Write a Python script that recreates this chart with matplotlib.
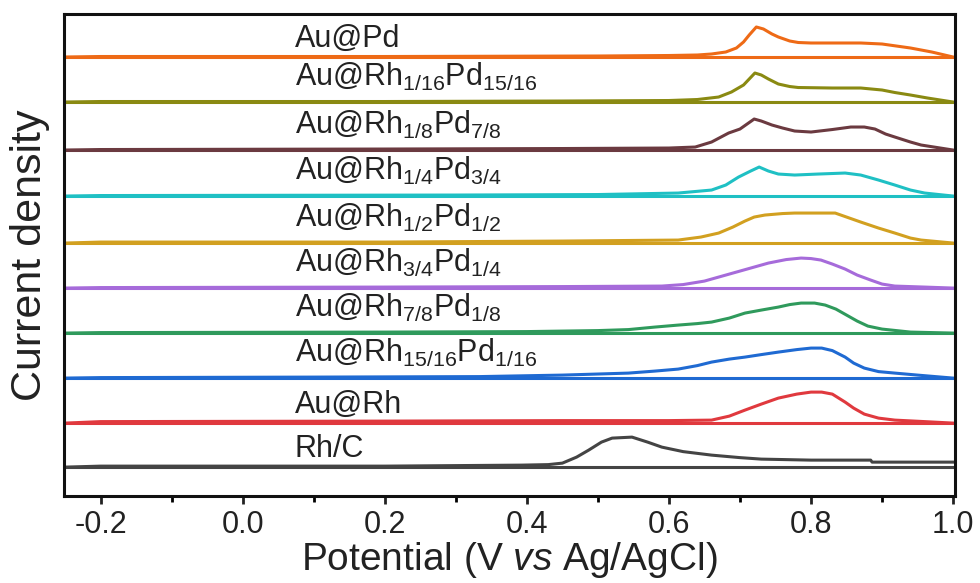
import matplotlib
matplotlib.use("Agg")
import matplotlib.pyplot as plt
from matplotlib.ticker import MultipleLocator

plt.rcParams['font.family'] = ['Liberation Sans', 'DejaVu Sans']
plt.rcParams['mathtext.fontset'] = 'custom'
plt.rcParams['mathtext.rm'] = 'Liberation Sans'
plt.rcParams['mathtext.it'] = 'Liberation Sans:italic'

# ---- data (current density in arbitrary units) ----
labels = [
    "Au@Pd",
    r"Au@Rh$_\mathregular{1/16}$Pd$_\mathregular{15/16}$",
    r"Au@Rh$_\mathregular{1/8}$Pd$_\mathregular{7/8}$",
    r"Au@Rh$_\mathregular{1/4}$Pd$_\mathregular{3/4}$",
    r"Au@Rh$_\mathregular{1/2}$Pd$_\mathregular{1/2}$",
    r"Au@Rh$_\mathregular{3/4}$Pd$_\mathregular{1/4}$",
    r"Au@Rh$_\mathregular{7/8}$Pd$_\mathregular{1/8}$",
    r"Au@Rh$_\mathregular{15/16}$Pd$_\mathregular{1/16}$",
    "Au@Rh",
    "Rh/C",
]
colors = ["#EE6A16", "#8A8A12", "#6B3A40", "#1FC0C4", "#D2A020",
          "#A66BDA", "#2F9A5C", "#1F6AD2", "#E0393E", "#444444"]
offsets = [439, 394, 346, 300, 253, 208, 163, 118, 73, 29]

x_pd = [-0.25, -0.2, 0.2, 0.5, 0.6, 0.64, 0.66, 0.68, 0.695, 0.705, 0.713, 0.723, 0.733, 0.745, 0.754,
        0.77, 0.782, 0.8, 0.82, 0.87, 0.9, 0.92, 0.94, 0.97, 1.0]
y_pd = [0, 0.5, 0.5, 1, 1.5, 2, 3, 5, 9, 15, 22, 30, 28, 23, 20,
        16, 14.5, 14, 14, 14, 13, 11, 9, 5, 0]

x_116 = [-0.25, -0.2, 0.2, 0.45, 0.6, 0.64, 0.67, 0.688, 0.705, 0.713, 0.721, 0.73, 0.74, 0.754,
         0.77, 0.782, 0.83, 0.87, 0.9, 0.918, 0.94, 0.964, 1.0]
y_116 = [0, 0.5, 0.5, 1, 1.5, 2.5, 5, 10, 17, 23, 29, 27, 23, 18,
         15.5, 14.5, 14, 14, 12, 9.5, 7, 4, 0]

x_18 = [-0.25, -0.2, 0.2, 0.45, 0.6, 0.637, 0.66, 0.684, 0.70, 0.71, 0.72, 0.73, 0.745, 0.76, 0.777,
        0.80, 0.83, 0.856, 0.875, 0.89, 0.905, 0.918, 0.94, 0.955, 1.0]
y_18 = [0, 0.5, 1, 1.5, 2, 3, 8, 17, 21, 26, 31, 29, 25, 22, 19,
        18, 20.5, 23, 23, 21, 16, 13, 8, 5, 0]

x_14 = [-0.25, -0.2, 0.3, 0.5, 0.613, 0.66, 0.68, 0.698, 0.715, 0.727, 0.74, 0.754, 0.777, 0.81,
        0.848, 0.87, 0.895, 0.918, 0.94, 0.96, 1.0]
y_14 = [0, 0.5, 1, 1.5, 3, 6, 11, 19, 25, 29, 25, 22, 21, 22,
        23, 21, 16, 11, 6, 3, 0]

x_12 = [-0.25, -0.2, 0.2, 0.45, 0.613, 0.645, 0.67, 0.69, 0.707, 0.72, 0.735, 0.76, 0.777, 0.834,
        0.85, 0.87, 0.895, 0.918, 0.94, 0.955, 1.0]
y_12 = [0, 1, 1, 2, 3, 6, 10, 16, 22, 26, 28, 29.5, 30, 30,
        26, 21, 15, 10, 5, 3, 0]

x_34 = [-0.25, -0.2, 0.2, 0.45, 0.59, 0.62, 0.65, 0.68, 0.71, 0.74, 0.765, 0.786, 0.80, 0.814,
        0.83, 0.848, 0.865, 0.884, 0.90, 0.918, 0.96, 1.0]
y_34 = [0, 0.5, 1, 1.5, 2, 3.5, 7, 13, 19, 25, 28.5, 30, 29.5, 28,
        24, 19, 13, 8, 4, 2, 1, 0]

x_78 = [-0.25, -0.2, 0.2, 0.4, 0.5, 0.543, 0.58, 0.613, 0.64, 0.66, 0.685, 0.707, 0.73, 0.754, 0.77,
        0.786, 0.805, 0.82, 0.835, 0.85, 0.865, 0.88, 0.9, 0.94, 1.0]
y_78 = [0, 0.5, 1, 1.5, 2.5, 3.5, 6, 8, 9.5, 11, 15, 20, 23, 26, 28.5,
        30, 30, 28, 24, 18, 12, 7, 4, 1, 0]

x_1516 = [-0.25, -0.2, 0.1, 0.333, 0.45, 0.543, 0.58, 0.613, 0.64, 0.66, 0.685, 0.707, 0.73, 0.754,
          0.78, 0.80, 0.815, 0.83, 0.848, 0.86, 0.875, 0.895, 0.918, 0.95, 1.0]
y_1516 = [0, 0.5, 1, 1.5, 3, 5, 7, 9, 12.5, 16, 19, 21, 23.5, 26,
          28.5, 30, 30, 27.5, 21, 15, 10, 6.5, 5, 3, 0]

x_rh = [-0.25, -0.2, 0.2, 0.45, 0.6, 0.66, 0.685, 0.707, 0.73, 0.754, 0.78, 0.80, 0.815, 0.83,
        0.848, 0.86, 0.875, 0.895, 0.918, 0.96, 1.0]
y_rh = [0, 1.5, 2, 2.5, 2.5, 3, 7, 13, 19, 25, 29, 31, 31, 29,
        21, 15, 9, 5, 3, 1.5, 0]

x_rhc = [-0.25, -0.2, 0.2, 0.393, 0.43, 0.45, 0.47, 0.487, 0.505, 0.52, 0.548, 0.57, 0.59, 0.62,
         0.66, 0.70, 0.73, 0.80, 0.884, 0.886, 1.0]
y_rhc = [0, 1, 1, 2, 2.5, 4, 10, 17, 25, 29, 30, 25, 20, 15.5,
         12, 9.5, 8, 7, 7, 5, 5]

xs = [x_pd, x_116, x_18, x_14, x_12, x_34, x_78, x_1516, x_rh, x_rhc]
ys = [y_pd, y_116, y_18, y_14, y_12, y_34, y_78, y_1516, y_rh, y_rhc]
base_x = [-0.25, 1.0]

xticks = [-0.2, 0.0, 0.2, 0.4, 0.6, 0.8, 1.0]
xticklabels = ["-0.2", "0.0", "0.2", "0.4", "0.6", "0.8", "1.0"]

# ---- figure ----
fig = plt.figure(figsize=(9.8, 5.83), dpi=100)
ax = fig.add_axes([0.065, 0.149, 0.909, 0.827])

for lab, c, off, x, y in zip(labels, colors, offsets, xs, ys):
    ax.plot(x, [v + off for v in y], color=c, lw=2.2, solid_joinstyle='round')
    ax.plot(base_x, [off, off], color=c, lw=2.2)
    dy = 16 if '$' in lab else 10
    ax.text(0.0735, off + dy, lab, fontsize=22, color='#222222',
            ha='left', va='baseline')

ax.set_xlim(-0.252, 1.002)
ax.set_ylim(0, 482)
ax.set_xticks(xticks)
ax.set_xticklabels(xticklabels)
ax.xaxis.set_minor_locator(MultipleLocator(0.1))
ax.set_yticks([])
ax.tick_params(axis='x', which='major', direction='out', length=6, width=2,
               labelsize=22, pad=4, colors='#222222')
ax.tick_params(axis='x', which='minor', direction='out', length=4, width=2)
for s in ax.spines.values():
    s.set_linewidth(2.2)
    s.set_color('#111111')

ax.set_xlabel(r"Potential (V $\mathit{vs}$ Ag/AgCl)", fontsize=28, labelpad=0, color='#222222')
ax.set_ylabel("Current density", fontsize=31, labelpad=10, color='#222222')

fig.savefig("out.png", dpi=100)
